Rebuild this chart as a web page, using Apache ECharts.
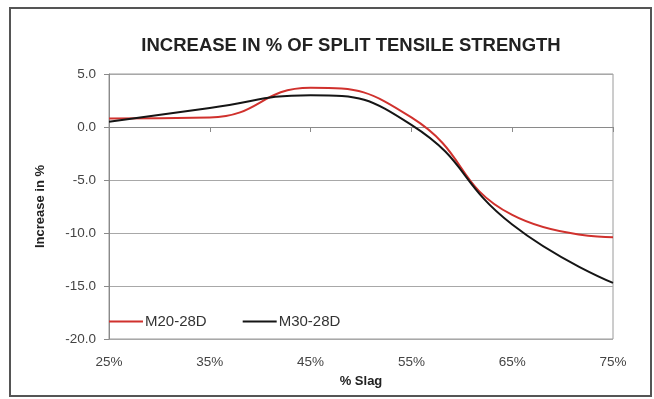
<!DOCTYPE html>
<html>
<head>
<meta charset="utf-8">
<script src="https://cdn.jsdelivr.net/npm/echarts@6/dist/echarts.min.js"></script>
<style>
  html, body { margin: 0; padding: 0; background: #ffffff; overflow: hidden; }
  #chart { width: 654px; height: 399px; }
</style>
</head>
<body>
<div id="chart"></div>
<script>
// Slag replacement levels (% of cement)
const slagLevels = [25, 35, 45, 55, 65, 75];
// Change in 28-day split tensile strength, %
const m20_28d = [0.8, 0.9, 3.7, 0.9, -8.3, -10.4];
const m30_28d = [0.5, 1.8, 3.0, 0.2, -9.2, -14.7];
const seriesNames = ['M20-28D', 'M30-28D'];
const yTicks = { min: -20, max: 5, step: 5 };
const xTicks = { min: 25, max: 75, step: 10 };

const FONT = '"Liberation Sans", Arial, sans-serif';
const chart = echarts.init(document.getElementById('chart'), null, { renderer: 'canvas' });

const pairs = vals => slagLevels.map((x, i) => [x, vals[i]]);

chart.setOption({
  backgroundColor: '#ffffff',
  animation: false,
  title: {
    text: 'INCREASE IN % OF SPLIT TENSILE STRENGTH',
    left: 346, top: 31, textAlign: 'center',
    textStyle: { fontFamily: FONT, fontWeight: 'bold', fontSize: 18.5, color: '#222' }
  },
  graphic: [{
    type: 'rect',
    shape: { x: 10, y: 8, width: 641, height: 388 },
    style: { fill: 'none', stroke: '#555', lineWidth: 2 },
    silent: true, z: 100
  }],
  grid: {
    left: 109, right: 41, top: 74, bottom: 60,
    show: true, borderColor: '#9a9a9a', borderWidth: 1, backgroundColor: 'transparent'
  },
  legend: {
    left: 104, top: 309,
    itemWidth: 34, itemHeight: 2, itemGap: 36, icon: 'rect',
    textStyle: { fontFamily: FONT, fontSize: 15, color: '#333', padding: [0, 0, 0, -3] },
    data: seriesNames
  },
  xAxis: [{
    type: 'value', min: xTicks.min, max: xTicks.max, interval: xTicks.step,
    position: 'bottom',
    axisLine: { onZero: true, lineStyle: { color: '#8a8a8a', width: 1 } },
    axisTick: { show: true, length: 5, lineStyle: { color: '#8a8a8a' } },
    axisLabel: { show: false },
    splitLine: { show: false }
  }, {
    type: 'value', min: xTicks.min, max: xTicks.max, interval: xTicks.step,
    position: 'bottom',
    axisLine: { show: false, onZero: false },
    axisTick: { show: false },
    splitLine: { show: false },
    axisLabel: {
      margin: 16, formatter: v => v + '%',
      fontFamily: FONT, fontSize: 13.5, color: '#444'
    },
    name: '% Slag', nameLocation: 'middle', nameGap: 36,
    nameTextStyle: { fontFamily: FONT, fontSize: 13, fontWeight: 'bold', color: '#222' }
  }],
  yAxis: {
    type: 'value', min: yTicks.min, max: yTicks.max, interval: yTicks.step,
    axisLine: { show: true, lineStyle: { color: '#8a8a8a' } },
    axisTick: { show: true, length: 5, lineStyle: { color: '#8a8a8a' } },
    splitLine: { show: true, lineStyle: { color: '#a8a8a8', width: 1 } },
    axisLabel: {
      margin: 13, formatter: v => v.toFixed(1),
      fontFamily: FONT, fontSize: 13.5, color: '#444'
    },
    name: 'Increase in %', nameLocation: 'middle', nameRotate: 90, nameGap: 62,
    nameTextStyle: { fontFamily: FONT, fontSize: 13, fontWeight: 'bold', color: '#222' }
  },
  series: [{
    name: seriesNames[0], type: 'line', smooth: 0.5, showSymbol: false,
    data: pairs(m20_28d),
    lineStyle: { color: '#d0312d', width: 2 }, itemStyle: { color: '#d0312d' }
  }, {
    name: seriesNames[1], type: 'line', smooth: 0.5, showSymbol: false,
    data: pairs(m30_28d),
    lineStyle: { color: '#151515', width: 2 }, itemStyle: { color: '#151515' }
  }]
});
</script>
</body>
</html>
